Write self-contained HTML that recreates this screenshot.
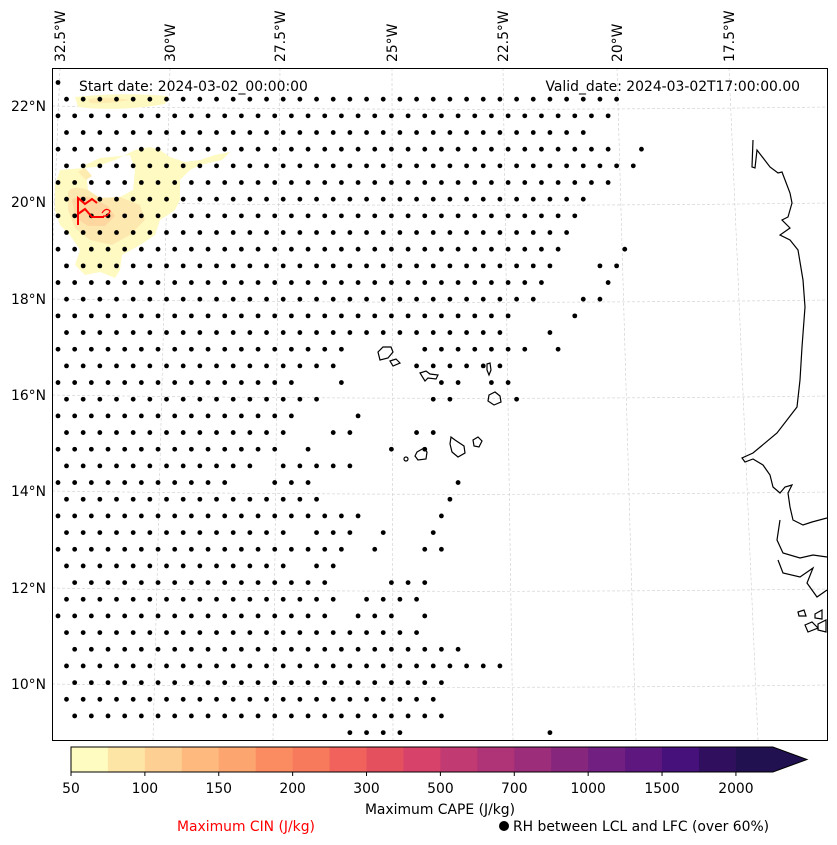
<!DOCTYPE html>
<html><head><meta charset="utf-8">
<style>
html,body{margin:0;padding:0;background:#fff;}
svg{display:block;font-family:"DejaVu Sans","Liberation Sans",sans-serif;}
</style></head>
<body>
<svg id="chart" width="837" height="845" viewBox="0 0 837 845" xmlns="http://www.w3.org/2000/svg">
  <rect x="0" y="0" width="837" height="845" fill="#fff"/>
  <defs><clipPath id="mapclip"><rect x="52" y="68" width="775" height="672"/></clipPath></defs>
  <g id="map" clip-path="url(#mapclip)">
    <g id="grid"></g>
    <g>
      <path d="M75,97 Q120,92 168,96 L165,104 Q120,112 78,107 Z" fill="#fef9c0"/>
      <path d="M88,99 Q110,96 130,100 Q110,104 90,103 Z" fill="#fdebb0"/>
      <path fill-rule="evenodd" fill="#fefac2" d="M60,170 L95,167 L115,160 L135,150 L150,147 L160,150 L170,157 L185,162 L200,160 L215,155 L230,152 L222,160 L200,165 L190,170 L180,180 L180,200 L175,210 L160,220 L155,235 L140,245 L122,255 L120,270 L115,278 L100,272 L85,275 L75,265 L80,250 L70,235 L60,225 L55,210 L55,185 Z M85,165 L100,158 L130,155 L135,170 L133,190 L120,197 L100,198 L88,190 Z"/>
      <path d="M68,192 Q72,185 88,190 L100,198 L120,197 L140,205 L145,220 L130,235 L112,245 L90,240 L75,228 L68,210 Z" fill="#fde9b0"/>
      <path d="M72,200 Q80,194 92,198 L108,206 L115,216 L105,226 L88,226 L76,218 Z" fill="#fdd6a0"/>
      <path d="M78,172 L85,168 L92,176 L86,180 Z" fill="#fdebb0"/>
    </g>
    <g id="dots"></g>
    <g fill="none" stroke="#ff0000" stroke-width="2">
      <path d="M78,225 L78,198 L85,204 L92,199 L97,203"/>
      <path d="M78,214 L85,209 L92,217 L104,217"/>
      <path d="M102,213 Q106,207 110,211 Q108,217 103,216" stroke-width="1.2"/>
    </g>
    <g fill="none" stroke="#000" stroke-width="1.2">
      <path d="M753,140 L752,167 L755,168 L757,150 L770,167 L778,173 L782,172 L790,193 L792,203 L788,217 L782,220 L790,228 L780,235 L790,240 L798,250 L803,280 L805,307 L802,347 L800,380 L797,407 L777,433 L753,453 L742,458 L745,462 L753,459 L763,465 L770,475 L773,487 L780,493 L785,487 L792,485 L788,493 L790,507 L793,520 L803,525 L812,522 L827,518"/>
      <path d="M780,520 L777,540 L783,553 L800,558 L813,555 L827,557"/>
      <path d="M778,560 L783,573 L800,577 L813,568 L807,583 L817,597 L827,590"/>
      <path d="M798,612 L804,610 L806,616 L799,616 Z"/>
      <path d="M815,614 L822,610 L822,619 L815,618 Z"/>
      <path d="M805,625 L812,622 L818,628 L808,632 Z"/>
      <path d="M818,624 L826,620 L826,632 L818,630 Z"/>
    </g>
    <g fill="none" stroke="#000" stroke-width="1.2">
      <path d="M378,352 L383,347 L391,347 L393,352 L388,358 L380,360 Z"/>
      <path d="M390,361 L396,359 L400,363 L393,366 Z"/>
      <path d="M420,373 L426,371 L430,374 L438,375 L436,379 L428,378 L425,381 Z"/>
      <path d="M487,364 L490,363 L491,370 L489,375 L487,370 Z"/>
      <path d="M489,395 L495,392 L500,396 L501,402 L494,405 L488,401 Z"/>
      <path d="M473,440 L478,437 L482,441 L479,447 L474,446 Z"/>
      <path d="M451,437 L455,440 L464,446 L465,453 L458,457 L452,452 L450,444 Z"/>
      <path d="M417,452 L424,448 L427,452 L426,459 L418,460 L415,456 Z"/>
      <circle cx="406" cy="459" r="2"/>
    </g>
  </g>
  <rect x="52.5" y="68.5" width="775" height="672" fill="none" stroke="#000" stroke-width="1"/>
  <g id="latlabels" font-size="13.9" fill="#000" text-anchor="end"></g>
  <g id="lonlabels" font-size="13.9" fill="#000"></g>
  <text x="79" y="91" font-size="13.9">Start date: 2024-03-02_00:00:00</text>
  <text x="800" y="91" font-size="13.9" text-anchor="end">Valid_date: 2024-03-02T17:00:00.00</text>
  <g id="colorbar"></g>
  <text x="440" y="814" font-size="13.9" text-anchor="middle">Maximum CAPE (J/kg)</text>
  <text x="246" y="831" font-size="13.9" text-anchor="middle" fill="#ff0000">Maximum CIN (J/kg)</text>
  <circle cx="504" cy="826" r="5" fill="#000"/>
  <text x="513" y="831" font-size="13.9">RH between LCL and LFC (over 60%)</text>
</svg>
<script>
const NS = "http://www.w3.org/2000/svg";
// Dot grid rows: each row lists [startCol, endCol] segments of dots present
const dotRows = [
 [[0,0]],[[0,33]],[[0,33]],[[0,31]],[[0,33],[35,35]],[[0,34]],[[0,33]],[[0,31]],[[0,31]],[[0,30]],
 [[0,30],[34,34]],[[0,29],[32,33]],[[0,29],[33,33]],[[0,28],[31,32]],[[0,27],[31,31]],
 [[0,20],[21,26],[29,29]],[[0,17],[22,28],[30,30]],[[0,16],[21,26]],[[0,14],[17,17],[23,24],[26,27]],
 [[0,15],[22,23],[27,27]],[[0,14],[18,18]],[[0,13],[16,17],[21,22]],[[0,13],[15,15],[20,20],[22,22]],
 [[0,11],[13,17]],[[0,10],[13,15],[24,24]],[[0,15],[23,23]],[[0,18],[23,23]],
 [[0,13],[15,17],[19,19],[22,22]],[[0,17],[19,19],[22,23]],[[0,13],[15,16]],[[1,16],[20,22]],
 [[0,16],[18,21]],[[0,16],[18,20],[22,22]],[[0,21]],[[1,24]],[[0,26]],[[1,23]],[[0,22]],[[1,23]],
 [[17,20],[29,29]]
];
const latLabels = ["22°N","20°N","18°N","16°N","14°N","12°N","10°N"];
const latY = [106,202,299,395,491,588,684];
const lonLabels = ["32.5°W","30°W","27.5°W","25°W","22.5°W","20°W","17.5°W"];
const lonTopX = [60,170,280,392,503,617,729];
const lonBotX = [33,153,273,393,513,636,758];
const cbColors = ["#fefcc0","#fde5a6","#fecf92","#fdb97e","#fca56f","#fb8c62","#f77a5c","#f0625b","#e5505f","#d7426a","#c23a72","#ae3377","#9b2d7a","#86267d","#711f80","#5d177f","#46117a","#30105e","#221150"];
const cbTicks = ["50","100","150","200","300","500","700","1000","1500","2000"];

const dots = document.getElementById('dots');
dotRows.forEach((segs, r) => {
  const y = 82.5 + r*16.67;
  const x0 = (r % 2 === 0) ? 58 : 66.5;
  segs.forEach(([a,b]) => {
    for (let k=a; k<=b; k++) {
      const c = document.createElementNS(NS,'circle');
      c.setAttribute('cx', x0 + k*16.67);
      c.setAttribute('cy', y);
      c.setAttribute('r', 2.4);
      c.setAttribute('fill', '#000');
      
      
      dots.appendChild(c);
    }
  });
});

const grid = document.getElementById('grid');
latY.forEach((y) => {
  const p = document.createElementNS(NS,'path');
  p.setAttribute('d', `M52,${y} Q450,${y+6} 827,${y+1}`);
  p.setAttribute('stroke', '#ccc'); p.setAttribute('stroke-width','0.6');
  p.setAttribute('stroke-dasharray','3,2'); p.setAttribute('fill','none');
  
  
  grid.appendChild(p);
});
lonTopX.forEach((x, i) => {
  const p = document.createElementNS(NS,'line');
  p.setAttribute('x1', x); p.setAttribute('y1', 68);
  p.setAttribute('x2', lonBotX[i]); p.setAttribute('y2', 740);
  p.setAttribute('stroke', '#ccc'); p.setAttribute('stroke-width','0.6');
  p.setAttribute('stroke-dasharray','3,2');
  
  
  grid.appendChild(p);
});

const latG = document.getElementById('latlabels');
latLabels.forEach((t, i) => {
  const e = document.createElementNS(NS,'text');
  e.setAttribute('x', 46); e.setAttribute('y', latY[i]+5);
  e.textContent = t;
  
  
  latG.appendChild(e);
});
const lonG = document.getElementById('lonlabels');
lonLabels.forEach((t, i) => {
  const e = document.createElementNS(NS,'text');
  const x = lonTopX[i] + 5, y = 62;
  e.setAttribute('x', x); e.setAttribute('y', y);
  e.setAttribute('transform', `rotate(-90 ${x} ${y})`);
  e.textContent = t;
  
  
  lonG.appendChild(e);
});

const cb = document.getElementById('colorbar');
const cbX = 71, cbY = 747, cbH = 25, segW = 36.94;
const cbEnd = cbX + segW*cbColors.length;
cbColors.forEach((c, i) => {
  const r = document.createElementNS(NS,'rect');
  r.setAttribute('x', cbX + i*segW); r.setAttribute('y', cbY);
  r.setAttribute('width', segW + 0.5); r.setAttribute('height', cbH);
  r.setAttribute('fill', c);
  
  
  cb.appendChild(r);
});
const tri = document.createElementNS(NS,'path');
tri.setAttribute('d', `M${cbEnd},${cbY} L807,${cbY+cbH/2} L${cbEnd},${cbY+cbH} Z`);
tri.setAttribute('fill', '#221150');


cb.appendChild(tri);
const outline = document.createElementNS(NS,'path');
outline.setAttribute('d', `M${cbX},${cbY} L${cbEnd},${cbY} L807,${cbY+cbH/2} L${cbEnd},${cbY+cbH} L${cbX},${cbY+cbH} Z`);
outline.setAttribute('fill','none'); outline.setAttribute('stroke','#000'); outline.setAttribute('stroke-width','1');


cb.appendChild(outline);
cbTicks.forEach((t, i) => {
  const x = cbX + i*2*segW;
  const l = document.createElementNS(NS,'line');
  l.setAttribute('x1', x); l.setAttribute('x2', x);
  l.setAttribute('y1', cbY+cbH); l.setAttribute('y2', cbY+cbH+4);
  l.setAttribute('stroke','#000');
  
  
  cb.appendChild(l);
  const e = document.createElementNS(NS,'text');
  e.setAttribute('x', x); e.setAttribute('y', 793);
  e.setAttribute('text-anchor','middle'); e.setAttribute('font-size','13.9');
  e.textContent = t;
  
  
  cb.appendChild(e);
});
</script>
</body></html>
